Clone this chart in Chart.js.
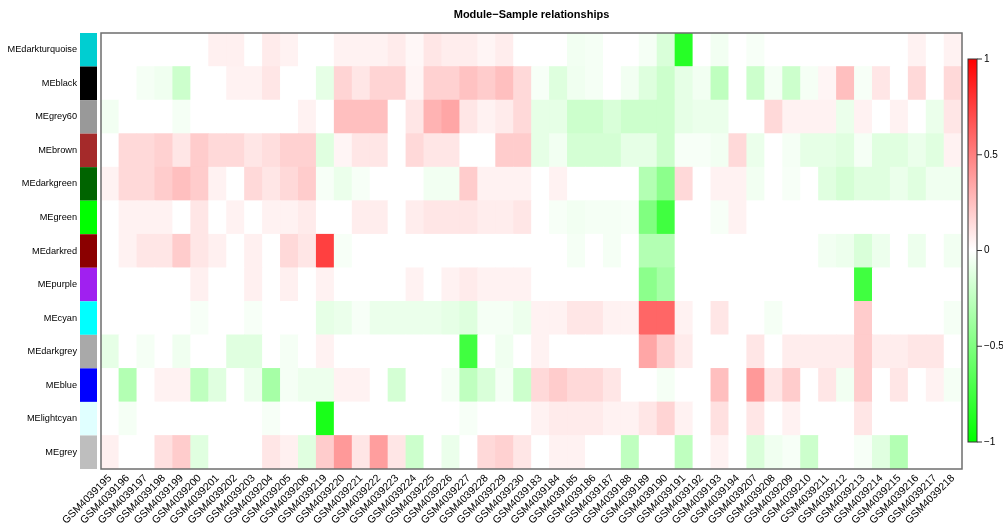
<!DOCTYPE html>
<html lang="en">
<head>
    <meta charset="UTF-8">
    <title>Module-Sample relationships</title>
    <script src="https://cdn.jsdelivr.net/npm/chart.js"></script>
    <style>
        body { margin: 0; background: #fff; }
        #wrap { width: 1003px; height: 525px; }
    </style>
</head>
<body>
    <div id="wrap"><canvas id="heat"></canvas></div>

    <script>
        // samples (columns)
        var samples = ['GSM4039195','GSM4039196','GSM4039197','GSM4039198','GSM4039199','GSM4039200',
            'GSM4039201','GSM4039202','GSM4039203','GSM4039204','GSM4039205','GSM4039206',
            'GSM4039219','GSM4039220','GSM4039221','GSM4039222','GSM4039223','GSM4039224',
            'GSM4039225','GSM4039226','GSM4039227','GSM4039228','GSM4039229','GSM4039230',
            'GSM4039183','GSM4039184','GSM4039185','GSM4039186','GSM4039187','GSM4039188',
            'GSM4039189','GSM4039190','GSM4039191','GSM4039192','GSM4039193','GSM4039194',
            'GSM4039207','GSM4039208','GSM4039209','GSM4039210','GSM4039211','GSM4039212',
            'GSM4039213','GSM4039214','GSM4039215','GSM4039216','GSM4039217','GSM4039218'];

        // modules (rows, top to bottom) and their module colours
        var modules = ['MEdarkturquoise','MEblack','MEgrey60','MEbrown','MEdarkgreen','MEgreen','MEdarkred',
            'MEpurple','MEcyan','MEdarkgrey','MEblue','MElightcyan','MEgrey'];
        var moduleColors = ['#00CED1','#000000','#999999','#A52A2A','#006400','#00FF00','#8B0000',
            '#A020F0','#00FFFF','#A9A9A9','#0000FF','#E0FFFF','#BEBEBE'];

        // correlation of each module eigengene with each sample
        var darkturquoise = [0,0,0,0,0,0,0.06,0.06,0,0.08,0.05,0,
            0,0.05,0.05,0.05,0.08,0.03,0.1,0.07,0.07,0.04,0.07,0,
            0,0,-0.05,-0.04,0,0,-0.04,-0.15,-0.85,0,-0.05,0,
            -0.03,0,0,0,0,0,0,0,0,0.05,0,0.05];
        var black = [0,0,-0.04,-0.06,-0.2,0,0,0.05,0.05,0.1,0,0,
            -0.1,0.17,0.1,0.17,0.17,0.04,0.18,0.18,0.24,0.2,0.25,0.15,
            -0.03,-0.13,-0.06,-0.04,0,-0.05,-0.13,-0.2,-0.1,-0.05,-0.25,0,
            -0.2,-0.04,-0.2,-0.04,0.04,0.25,-0.03,0.1,0,0.15,0,0.15];
        var grey60 = [-0.05,0,0,0,-0.04,0,0,0,0,0,0,0.05,
            0,0.25,0.25,0.25,0,0.1,0.3,0.35,0.1,0.05,0.08,0.15,
            -0.1,-0.1,-0.2,-0.2,-0.15,-0.2,-0.2,-0.2,-0.1,-0.08,-0.08,0,
            0,0.15,0.05,0.05,0.05,-0.08,0.05,0,0.05,0,-0.08,0.1];
        var brown = [0,0.15,0.15,0.18,0.1,0.2,0.15,0.15,0.1,0.13,0.18,0.18,
            -0.12,0.04,0.1,0.1,0,0.15,0.1,0.1,0,0,0.2,0.2,
            -0.1,-0.05,-0.17,-0.17,-0.17,-0.1,-0.1,-0.2,-0.03,-0.03,-0.05,0.15,
            -0.08,0,-0.04,-0.1,-0.1,-0.12,-0.04,-0.12,-0.12,-0.08,-0.12,0.05];
        var darkgreen = [0.05,0.15,0.15,0.2,0.25,0.2,0.05,0,0.15,0.1,0.15,0.2,
            -0.03,-0.08,-0.03,0,0,0,-0.05,-0.05,0.2,0.05,0.05,0.05,
            0,0.05,0,0,0,0,-0.3,-0.45,0.15,0,0.05,0.05,
            -0.05,0,-0.03,0,-0.12,-0.17,-0.12,-0.12,-0.08,-0.12,-0.06,-0.06];
        var green = [0,0.05,0.05,0.05,0,0.1,0,0.05,0,0.05,0.05,0.08,
            0,0,0.07,0.07,0,0.07,0.1,0.1,0.1,0.07,0.07,0.1,
            0,-0.03,-0.05,-0.04,-0.04,-0.03,-0.5,-0.75,0,0,-0.03,0.05,
            0,0,0,0,0,0,0,0,0,0,0,0];
        var darkred = [0,0.05,0.1,0.1,0.2,0.1,0.06,0,0.06,0,0.15,0.1,
            0.75,-0.03,0,0,0,0,0,0,0,0,0,0,
            0,0,-0.04,0,-0.04,0,-0.3,-0.3,0,0,0,0,
            0,0,0,0,-0.05,-0.07,-0.15,-0.07,0,-0.07,0,-0.05];
        var purple = [0,0,0,0,0,0.06,0,0,0.06,0,0.06,0,
            0.05,0,0,0,0,0.05,0,0.05,0.08,0.05,0.05,0.05,
            0,0,0,0,0,0,-0.45,-0.35,0,0,0,0,
            0,0,0,0,0,0,-0.75,0,0,0,0,0];
        var cyan = [0,0,0,0,0,-0.03,0,0,-0.03,0,0,0,
            -0.1,-0.08,-0.03,-0.08,-0.08,-0.08,-0.08,-0.1,-0.13,-0.04,-0.04,-0.07,
            0.05,0.05,0.1,0.1,0.05,0.05,0.6,0.6,0.05,0,0.1,0,
            0,-0.04,0,0,0,0,0.2,0,0,0,0,-0.04];
        var darkgrey = [-0.1,0,-0.04,0,-0.06,0,0,-0.12,-0.12,0,-0.04,0,
            0.05,0,0,0,0,0,0,0,-0.75,0,-0.06,0,
            0.05,0,0,0,0,0,0.35,0.2,0.08,0,0,0,
            0.1,0,0.07,0.07,0.07,0.07,0.2,0.07,0.07,0.1,0.1,0];
        var blue = [0,-0.3,0,0.05,0.05,-0.25,-0.12,0,-0.07,-0.35,-0.04,-0.07,
            -0.07,0.05,0.05,0,-0.17,0,0,-0.04,-0.25,-0.15,-0.04,-0.2,
            0.15,0.2,0.15,0.15,0.1,0,0,-0.04,0,0,0.25,0,
            0.4,0.1,0.2,0,0.1,-0.05,0.2,0,0.1,0,0.05,-0.04];
        var lightcyan = [0,-0.04,0,0,0,0,0,0,0,-0.03,0,0,
            -0.9,0,0,0,0,0,0,0,-0.03,0,0,0,
            0.05,0.08,0.08,0.08,0.05,0.05,0.1,0.17,0.05,0,0.12,0,
            0.1,0,0.05,0,0,0,0.1,0,0,0,0,0];
        var grey = [0.06,0,0,0.12,0.2,-0.12,0,0,0,0.1,0.06,-0.12,
            0.2,0.4,0.1,0.38,0.1,-0.2,0,-0.08,0,0.15,0.18,0.1,
            0,0.05,0.05,0,0,-0.25,0,0,-0.25,0,0.05,0,
            -0.15,-0.06,-0.03,-0.2,0,0,-0.03,-0.12,-0.3,0,0,0];

        var rows = [darkturquoise, black, grey60, brown, darkgreen, green, darkred,
            purple, cyan, darkgrey, blue, lightcyan, grey];

        var legendTicks = [1, 0.5, 0, -0.5, -1];

        // green - white - red
        function corColor(v) {
            var a = Math.round(255 * (1 - Math.min(1, Math.abs(v))));
            return v >= 0 ? 'rgb(255,' + a + ',' + a + ')' : 'rgb(' + a + ',255,' + a + ')';
        }

        // one stacked dataset per module, bottom row first
        var nRows = modules.length;
        var datasets = [];
        for (var r = nRows - 1; r >= 0; r--) {
            datasets.push({
                label: modules[r],
                data: samples.map(function () { return 1; }),
                backgroundColor: rows[r].map(corColor),
                borderWidth: 0,
                barPercentage: 1,
                categoryPercentage: 1
            });
        }

        // frame, module colour bar, colour key
        var extras = {
            id: 'extras',
            afterDraw: function (chart) {
                var c = chart.ctx, a = chart.chartArea, ys = chart.scales.y;
                c.save();
                // module colour strip
                for (var i = 0; i < nRows; i++) {
                    var top = ys.getPixelForValue(nRows - i);
                    var bot = ys.getPixelForValue(nRows - i - 1);
                    c.fillStyle = moduleColors[i];
                    c.fillRect(a.left - 21, top, 17, bot - top);
                }
                // plot frame
                c.strokeStyle = '#6e6e6e';
                c.lineWidth = 1.5;
                c.strokeRect(a.left, a.top, a.right - a.left, a.bottom - a.top);

                // colour key
                var kx = 968, kw = 9, kTop = 59, kBot = 442;
                var g = c.createLinearGradient(0, kTop, 0, kBot);
                g.addColorStop(0, 'rgb(255,0,0)');
                g.addColorStop(0.5, 'rgb(255,255,255)');
                g.addColorStop(1, 'rgb(0,255,0)');
                c.fillStyle = g;
                c.fillRect(kx, kTop, kw, kBot - kTop);
                c.strokeStyle = '#333';
                c.lineWidth = 1;
                c.strokeRect(kx, kTop, kw, kBot - kTop);
                c.fillStyle = '#000';
                c.font = '10px "Liberation Sans", Arial, sans-serif';
                c.textBaseline = 'middle';
                legendTicks.forEach(function (t) {
                    var y = kTop + (1 - t) / 2 * (kBot - kTop);
                    c.beginPath();
                    c.moveTo(kx + kw, y);
                    c.lineTo(kx + kw + 5, y);
                    c.stroke();
                    c.fillText(t < 0 ? '\u2212' + Math.abs(t) : String(t), kx + kw + 7, y);
                });
                c.restore();
            }
        };

        new Chart(document.getElementById('heat'), {
            type: 'bar',
            data: { labels: samples, datasets: datasets },
            options: {
                responsive: true,
                maintainAspectRatio: false,
                animation: false,
                layout: { padding: { top: 0, right: 41, bottom: 0, left: 0 } },
                plugins: {
                    legend: { display: false },
                    tooltip: { enabled: false },
                    title: {
                        display: true,
                        fullSize: false,
                        text: 'Module\u2212Sample relationships',
                        color: '#000',
                        font: { family: '"Liberation Sans", Arial, sans-serif', size: 11, weight: 'bold' },
                        padding: { top: 8.5, bottom: 11.3 }
                    }
                },
                scales: {
                    x: {
                        stacked: true,
                        grid: { display: false, drawTicks: false },
                        border: { display: false },
                        ticks: {
                            autoSkip: false,
                            minRotation: 45,
                            maxRotation: 45,
                            padding: 3,
                            color: '#000',
                            font: { family: '"Liberation Sans", Arial, sans-serif', size: 10.5 }
                        },
                        afterFit: function (s) { s.height = 56; }
                    },
                    y: {
                        stacked: true,
                        min: 0,
                        max: nRows,
                        grid: { display: false, drawTicks: false },
                        border: { display: false },
                        afterBuildTicks: function (s) {
                            s.ticks = modules.map(function (m, i) { return { value: nRows - i - 0.5 }; });
                        },
                        ticks: {
                            padding: 24,
                            color: '#000',
                            font: { family: '"Liberation Sans", Arial, sans-serif', size: 9.2 },
                            callback: function (v) { return modules[nRows - 1 - Math.floor(v)]; }
                        },
                        afterFit: function (s) { s.width = 101; }
                    }
                }
            },
            plugins: [extras]
        });
    </script>
</body>
</html>
